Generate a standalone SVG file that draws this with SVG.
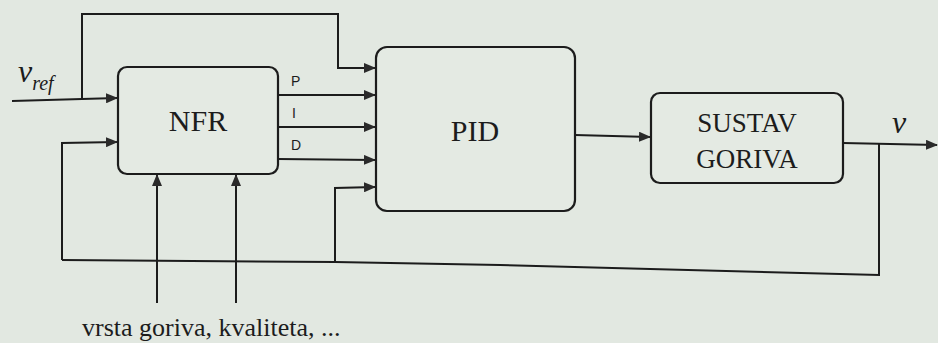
<svg xmlns="http://www.w3.org/2000/svg" width="938" height="343" viewBox="0 0 938 343">
<style>
.ln{fill:none;stroke:#1c1c1c;stroke-width:2}
.box{fill:#e4eae3;stroke:#1c1c1c;stroke-width:2.2}
text{fill:#1c1c1c}
.serif{font-family:'Liberation Serif','Times New Roman',serif}
.big{text-anchor:middle}
.sm{font-family:'Liberation Sans',Arial,sans-serif;font-size:14px}
</style>
<defs>
<marker id="ah" markerWidth="12" markerHeight="10" refX="11" refY="5" orient="auto" markerUnits="userSpaceOnUse">
<path d="M0,0 L12,5 L0,10 Z" fill="#2a2a2a"/>
</marker>
</defs>
<rect width="938" height="343" fill="#e2e8e1"/>
<g id="connectors">
<path class="ln" d="M12,101 L117,98" marker-end="url(#ah)"/>
<path class="ln" d="M82,99 L82,14 L338,14 L338,68 L375,68" marker-end="url(#ah)"/>
<path class="ln" d="M62,260 L62,143 L117,142" marker-end="url(#ah)"/>
<path class="ln" d="M278,95 L375,95" marker-end="url(#ah)"/>
<path class="ln" d="M278,127 L375,127" marker-end="url(#ah)"/>
<path class="ln" d="M278,159 L375,160" marker-end="url(#ah)"/>
<path class="ln" d="M335,262 L335,188 L375,187" marker-end="url(#ah)"/>
<path class="ln" d="M62,260 L335,262 L500,265 L879,275 L879,144"/>
<path class="ln" d="M575,135 L650,137" marker-end="url(#ah)"/>
<path class="ln" d="M843,143 L937,145" marker-end="url(#ah)"/>
<path class="ln" d="M157,303 L157,175" marker-end="url(#ah)"/>
<path class="ln" d="M236,303 L236,175" marker-end="url(#ah)"/>
</g>
<g id="nfr">
<rect class="box" x="118" y="67" width="160" height="107" rx="9"/>
<text class="serif big" x="198" y="131" font-size="30">NFR</text>
</g>
<g id="pid">
<rect class="box" x="376" y="47" width="199" height="164" rx="11"/>
<text class="serif big" x="475" y="141" font-size="30">PID</text>
</g>
<g id="sustav">
<rect class="box" x="651" y="93" width="192" height="90" rx="9"/>
<text class="serif big" x="747" y="132" font-size="27">SUSTAV</text>
<text class="serif big" x="747" y="168" font-size="27">GORIVA</text>
</g>
<g id="labels">
<text class="sm" x="291" y="86">P</text>
<text class="sm" x="292" y="118">I</text>
<text class="sm" x="291" y="150">D</text>
<text class="serif" x="18" y="82" font-style="italic" font-size="32">v<tspan font-size="20" dy="8">ref</tspan></text>
<text class="serif" x="892" y="133" font-style="italic" font-size="32">v</text>
<text class="serif" x="82" y="336" font-size="26">vrsta goriva, kvaliteta, ...</text>
</g>
</svg>
